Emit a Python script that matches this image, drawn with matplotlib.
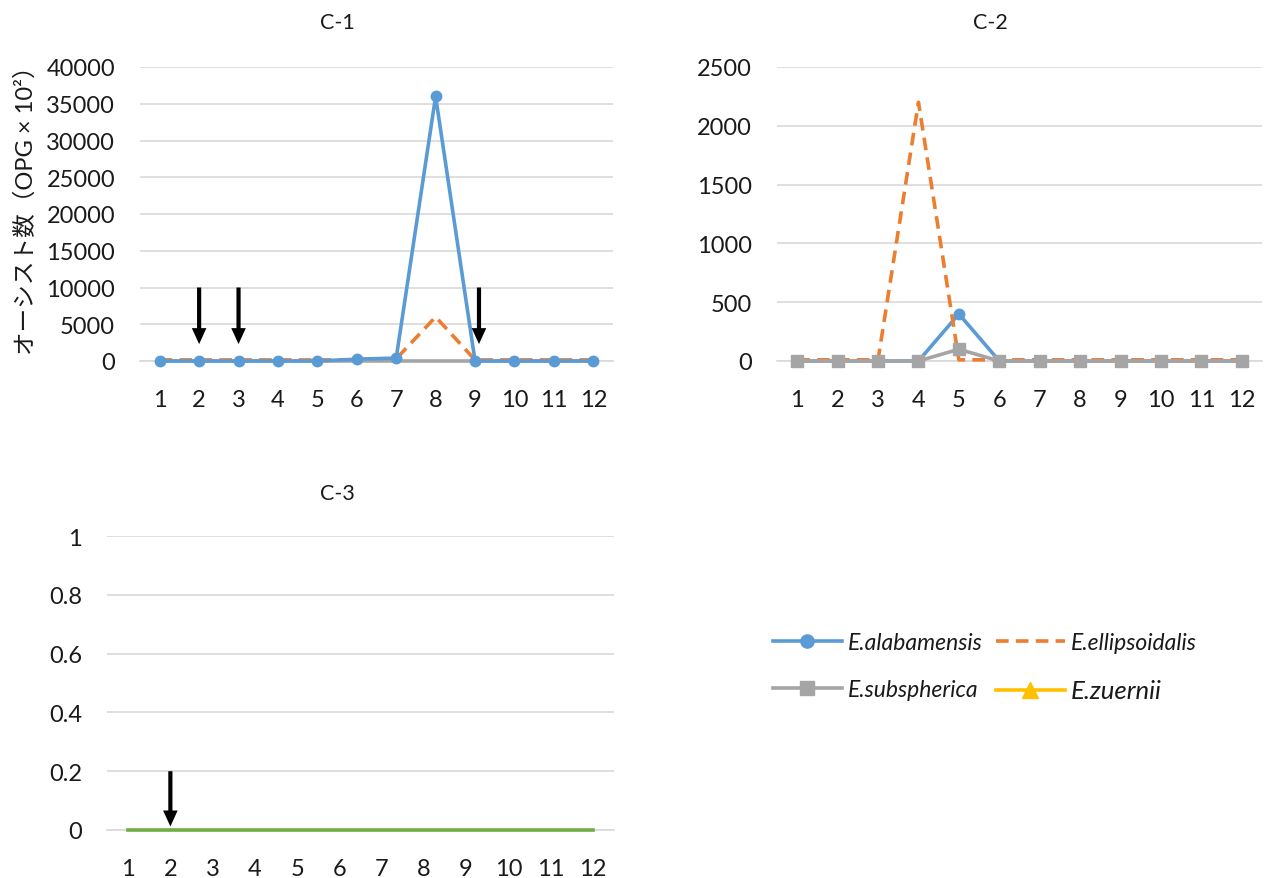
import matplotlib.pyplot as plt
from matplotlib.lines import Line2D
from matplotlib.ticker import FuncFormatter

plt.rcParams['font.family'] = ['Lato', 'Noto Sans CJK JP', 'DejaVu Sans']

months = [1, 2, 3, 4, 5, 6, 7, 8, 9, 10, 11, 12]

# C-1
c1_alabamensis = [0, 0, 0, 0, 0, 250, 400, 36000, 0, 0, 0, 0]
c1_ellipsoidalis = [150, 150, 150, 150, 150, 150, 300, 6000, 150, 150, 150, 150]
c1_subspherica = [0, 0, 0, 0, 0, 0, 0, 0, 0, 0, 0, 0]
c1_arrows = [2, 3, 9.1]

# C-2
c2_alabamensis = [0, 0, 0, 0, 400, 0, 0, 0, 0, 0, 0, 0]
c2_ellipsoidalis = [10, 10, 10, 2200, 10, 10, 10, 10, 10, 10, 10, 10]
c2_subspherica = [0, 0, 0, 0, 100, 0, 0, 0, 0, 0, 0, 0]

# C-3
c3_values = [0, 0, 0, 0, 0, 0, 0, 0, 0, 0, 0, 0]
c3_arrows = [2]

BLUE = "#5b9bd5"
ORANGE = "#ed7d31"
GRAY = "#a5a5a5"
YELLOW = "#ffc000"
GREEN = "#70ad47"
GRID = "#d9d9d9"
TXT = "#1a1a1a"


def style(ax, ymax, step, fmt):
    ax.set_xlim(0.5, 12.5)
    ax.set_ylim(0, ymax)
    n = int(round(ymax / step))
    ax.set_yticks([i * step for i in range(n + 1)])
    ax.yaxis.set_major_formatter(FuncFormatter(fmt))
    ax.set_xticks(months)
    ax.grid(axis="y", color=GRID, lw=1.2, zorder=0)
    ax.set_axisbelow(True)
    for s in ("top", "right", "left"):
        ax.spines[s].set_visible(False)
    ax.spines["bottom"].set_color(GRID)
    ax.spines["bottom"].set_linewidth(1.2)
    ax.tick_params(axis="y", length=0, labelsize=17, pad=18, colors=TXT)
    ax.tick_params(axis="x", length=0, labelsize=17, pad=20, colors=TXT)


def arrow(ax, x, y0, y1):
    ax.annotate("", xy=(x, y1), xytext=(x, y0),
                arrowprops=dict(facecolor="black", edgecolor="none", width=3,
                                headwidth=10.5, headlength=11.5, shrink=0),
                zorder=6)


fig = plt.figure(figsize=(12.68, 8.79), dpi=100)

H = 879.0
W = 1268.0

# C-1
ax1 = fig.add_axes([140 / W, 1 - 362 / H, 473 / W, 294 / H])
style(ax1, 40000, 5000, lambda v, p: f"{int(v)}")
ax1.plot(months, c1_ellipsoidalis, color=ORANGE, lw=2.6, ls=(0, (3.5, 2)), zorder=2, clip_on=False)
ax1.plot(months, c1_subspherica, color=GRAY, lw=2.6, zorder=3, clip_on=False)
ax1.plot(months, c1_alabamensis, color=BLUE, lw=2.6, marker="o", ms=7.5, zorder=4, clip_on=False)
for x in c1_arrows:
    arrow(ax1, x, 10000, 2300)

# C-2
ax2 = fig.add_axes([777 / W, 1 - 362 / H, 485 / W, 294 / H])
style(ax2, 2500, 500, lambda v, p: f"{int(v)}")
ax2.plot(months, c2_alabamensis, color=BLUE, lw=2.6, marker="o", ms=7.5, zorder=2, clip_on=False)
ax2.plot(months, c2_ellipsoidalis, color=ORANGE, lw=2.6, ls=(0, (3.5, 2)), zorder=3, clip_on=False)
ax2.plot(months, c2_subspherica, color=GRAY, lw=2.6, marker="s", ms=9, zorder=4, clip_on=False)

# C-3
ax3 = fig.add_axes([107 / W, 1 - 831 / H, 507 / W, 294 / H])
style(ax3, 1, 0.2, lambda v, p: "0" if v == 0 else ("1" if abs(v - 1) < 1e-9 else f"{v:.1f}"))
ax3.plot(months, c3_values, color=GREEN, lw=2.6, zorder=3, clip_on=False)
for x in c3_arrows:
    arrow(ax3, x, 0.2, 0.012)

# titles
fig.text(337 / W, 1 - 23 / H, "C-1", ha="center", va="center", fontsize=15.5, color=TXT)
fig.text(990 / W, 1 - 23 / H, "C-2", ha="center", va="center", fontsize=15.5, color=TXT)
fig.text(337 / W, 1 - 494 / H, "C-3", ha="center", va="center", fontsize=15.5, color=TXT)

fig.text(26 / W, 1 - 205 / H, "オーシスト数（OPG × 10²）", rotation=90,
         ha="center", va="center", fontsize=17, color=TXT)

# legend
handles = [
    Line2D([], [], color=BLUE, lw=2.6, marker="o", ms=9.5),
    Line2D([], [], color=GRAY, lw=2.6, marker="s", ms=9.5),
    Line2D([], [], color=ORANGE, lw=2.6, ls=(0, (3.5, 2))),
    Line2D([], [], color=YELLOW, lw=2.6, marker="^", ms=11),
]
labels = ["E.alabamensis", "E.subspherica", "E.ellipsoidalis", "E.zuernii"]
leg = fig.legend(handles, labels, ncol=2, loc="center left",
                 bbox_to_anchor=(773 / W, 1 - 668 / H), frameon=False,
                 prop=dict(size=16.5, style="italic"), handlelength=3.0,
                 handletextpad=0.25, columnspacing=0.6, labelspacing=1.1,
                 borderpad=0, borderaxespad=0)
for t in leg.get_texts():
    t.set_color(TXT)
leg.get_texts()[3].set_fontsize(18.5)

fig.savefig("out.png", dpi=100)
